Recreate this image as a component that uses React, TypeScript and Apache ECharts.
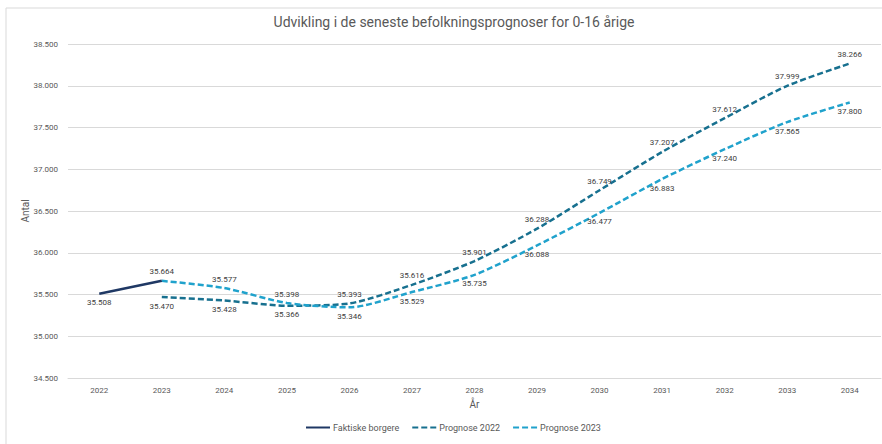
import React, { useEffect, useRef } from "react";
import * as echarts from "echarts";

const years = ["2022", "2023", "2024", "2025", "2026", "2027", "2028", "2029", "2030", "2031", "2032", "2033", "2034"];
const faktiske = [35508, 35664, null, null, null, null, null, null, null, null, null, null, null];
const prognose2022 = [null, 35470, 35428, 35366, 35393, 35616, 35901, 36288, 36749, 37207, 37612, 37999, 38266];
const prognose2023 = [null, 35664, 35577, 35398, 35346, 35529, 35735, 36088, 36477, 36883, 37240, 37565, 37800];

const fmt = (v: number) => {
  const s = Math.round(v).toString();
  return s.replace(/\B(?=(\d{3})+(?!\d))/g, ".");
};

const labelStyle = { fontSize: 8, color: "#404040", fontFamily: "Roboto", distance: 5 };

export default function App() {
  const ref = useRef<HTMLDivElement>(null);
  useEffect(() => {
    if (!ref.current) return;
    const chart = echarts.init(ref.current, undefined, { renderer: "svg" });
    const mk = (arr: (number | null)[], posFn: (i: number) => string | null) =>
      arr.map((v, i) => {
        if (v === null) return null;
        const p = posFn(i);
        return {
          value: v,
          label: p ? { show: true, position: p } : { show: false },
        };
      });
    const common = {
      type: "line",
      symbol: "circle",
      symbolSize: 0.01,
      showSymbol: true,
      label: { show: true, ...labelStyle, formatter: (o: any) => fmt(o.value) },
    };
    chart.setOption({
      animation: false,
      textStyle: { fontFamily: "Roboto" },
      title: {
        text: "Udvikling i de seneste befolkningsprognoser for 0-16 årige",
        left: 449,
        textAlign: "center",
        top: 10,
        textStyle: { fontSize: 14, fontWeight: "normal", color: "#595959", fontFamily: "Roboto" },
      },
      graphic: [
        {
          type: "rect",
          shape: { x: 6, y: 8, width: 900, height: 460 },
          style: { fill: "none", stroke: "#d9d9d9", lineWidth: 1 },
          silent: true,
          z: -10,
        },
      ],
      legend: {
        bottom: 7,
        left: 300,
        itemWidth: 24,
        itemHeight: 8,
        itemGap: 12,
        itemStyle: { opacity: 0 },
        textStyle: { fontSize: 9, color: "#595959", fontFamily: "Roboto", padding: [0, 0, 0, -2] },
        data: ["Faktiske borgere", "Prognose 2022", "Prognose 2023"],
      },
      grid: { left: 68, right: 1, top: 44, bottom: 66 },
      xAxis: {
        type: "category",
        data: years,
        boundaryGap: true,
        name: "År",
        nameLocation: "middle",
        nameGap: 21,
        nameMoveOverlap: false,
        nameTextStyle: { fontSize: 10, color: "#595959" },
        axisLine: { lineStyle: { color: "#d9d9d9" } },
        axisTick: { show: false },
        axisLabel: { fontSize: 8, color: "#595959", margin: 8 },
      },
      yAxis: {
        type: "value",
        min: 34500,
        max: 38500,
        interval: 500,
        name: "Antal",
        nameLocation: "middle",
        nameGap: 38,
        nameMoveOverlap: false,
        nameTextStyle: { fontSize: 10, color: "#595959" },
        axisLine: { show: false },
        axisTick: { show: false },
        splitLine: { lineStyle: { color: "#d9d9d9" } },
        axisLabel: { fontSize: 8, color: "#595959", margin: 10, formatter: (v: number) => fmt(v) },
      },
      series: [
        {
          ...common,
          name: "Faktiske borgere",
          data: mk(faktiske, (i) => (i === 0 ? "bottom" : "top")),
          lineStyle: { color: "#1f3864", width: 2.5 },
          itemStyle: { color: "#1f3864" },
          z: 5,
        },
        {
          ...common,
          name: "Prognose 2022",
          data: mk(prognose2022, (i) => (i <= 3 ? "bottom" : "top")),
          smooth: 0.25,
          lineStyle: { color: "#17708f", width: 2.5, type: [6, 3] },
          itemStyle: { color: "#17708f" },
        },
        {
          ...common,
          name: "Prognose 2023",
          data: mk(prognose2023, (i) => (i === 1 ? null : i <= 3 ? "top" : "bottom")),
          smooth: 0.25,
          lineStyle: { color: "#20a2cc", width: 2.5, type: [6, 3] },
          itemStyle: { color: "#20a2cc" },
        },
      ],
    });
    return () => chart.dispose();
  }, []);
  return <div ref={ref} style={{ position: "fixed", left: 0, top: 0, width: 882, height: 444, background: "#fff" }} />;
}
